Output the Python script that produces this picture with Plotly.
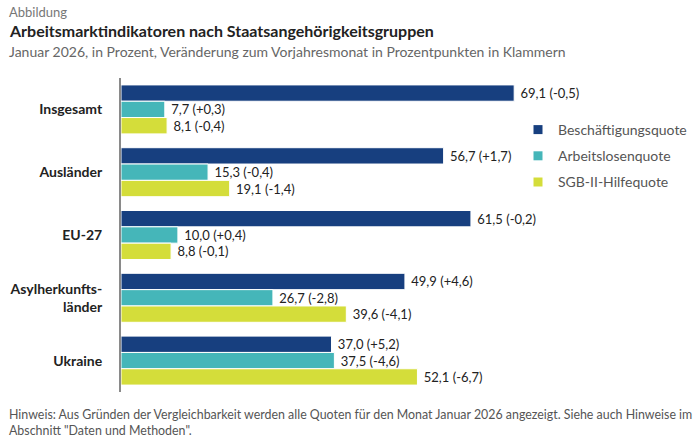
import plotly.graph_objects as go

categories = ["Insgesamt", "Ausländer", "EU-27", "Asylherkunfts-<br>länder", "Ukraine"]
series_names = ["Beschäftigungsquote", "Arbeitslosenquote", "SGB-II-Hilfequote"]
beschaeftigung = [69.1, 56.7, 61.5, 49.9, 37.0]
beschaeftigung_diff = [-0.5, 1.7, -0.2, 4.6, 5.2]
arbeitslos = [7.7, 15.3, 10.0, 26.7, 37.5]
arbeitslos_diff = [0.3, -0.4, 0.4, -2.8, -4.6]
sgb2 = [8.1, 19.1, 8.8, 39.6, 52.1]
sgb2_diff = [-0.4, -1.4, -0.1, -4.1, -6.7]
colors = ["#173f7f", "#45b6b9", "#d4dd3a"]

def fmt(v, d):
    s = f"{v:.1f}".replace(".", ",")
    ds = f"{d:+.1f}".replace(".", ",")
    return "\u00a0" + s + " (" + ds + ")"

W, H = 700, 439
L, T, B = 121, 78, 47
PW = W - L
PH = H - T - B

def px(x):
    return (x - L) / PW

def py(y):
    return (H - B - y) / PH

fig = go.Figure()
for i, (name, vals, diffs) in enumerate(zip(series_names,
                                             [beschaeftigung, arbeitslos, sgb2],
                                             [beschaeftigung_diff, arbeitslos_diff, sgb2_diff])):
    fig.add_trace(go.Bar(
        y=categories, x=vals, name=name, orientation="h",
        marker=dict(color=colors[i], line=dict(color="white", width=1)),
        text=[fmt(v, d) for v, d in zip(vals, diffs)],
        textposition="outside", cliponaxis=False,
        textfont=dict(size=13, color="#222222", family="Lato"),
        showlegend=False,
    ))

# legend entries (square symbols)
for i, name in enumerate(series_names):
    fig.add_trace(go.Scatter(
        x=[None], y=[None], mode="markers", name=name,
        marker=dict(symbol="square", size=9, color=colors[i]),
        legendgroup=name, showlegend=True,
    ))

fig.update_layout(
    width=W, height=H,
    margin=dict(l=L, r=0, t=T, b=B),
    barmode="group", bargap=0.22, bargroupgap=0,
    plot_bgcolor="white", paper_bgcolor="white",
    font=dict(family="Lato", color="#222222"),
    xaxis=dict(range=[0, PW / 5.69], visible=False, fixedrange=True),
    yaxis=dict(autorange="reversed", showline=True, linecolor="#8a8a8a", linewidth=2,
               ticks="", ticklabelstandoff=14,
               tickfont=dict(size=14, color="#222222", family="Lato"),
               showgrid=False, tickmode="array", tickvals=categories,
               ticktext=["<b>" + c + "</b>" for c in categories]),
    legend=dict(x=px(518), y=py(114), xanchor="left", yanchor="top",
                font=dict(size=14, color="#555555", family="Lato"),
                tracegroupgap=5, traceorder="grouped", bgcolor="rgba(0,0,0,0)"),
    showlegend=True,
)

anns = [
    dict(text="Abbildung", x=px(7), y=py(2), size=13, color="#777777", fam="Lato"),
    dict(text="<b>Arbeitsmarktindikatoren nach Staatsangehörigkeitsgruppen</b>", x=px(7), y=py(19), size=16, color="#222222", fam="Lato"),
    dict(text="Januar 2026, in Prozent, Veränderung zum Vorjahresmonat in Prozentpunkten in Klammern", x=px(7), y=py(41), size=14, color="#666666", fam="Lato"),
    dict(text="Hinweis: Aus Gründen der Vergleichbarkeit werden alle Quoten für den Monat Januar 2026 angezeigt. Siehe auch Hinweise im<br>Abschnitt \"Daten und Methoden\".",
         x=px(7), y=py(405), size=12.4, color="#555555", fam="Lato"),
]
for a in anns:
    fig.add_annotation(text=a["text"], x=a["x"], y=a["y"], xref="paper", yref="paper",
                       xanchor="left", yanchor="top", showarrow=False, align="left",
                       font=dict(size=a["size"], color=a["color"], family=a["fam"]))

fig.write_html("out.html")
